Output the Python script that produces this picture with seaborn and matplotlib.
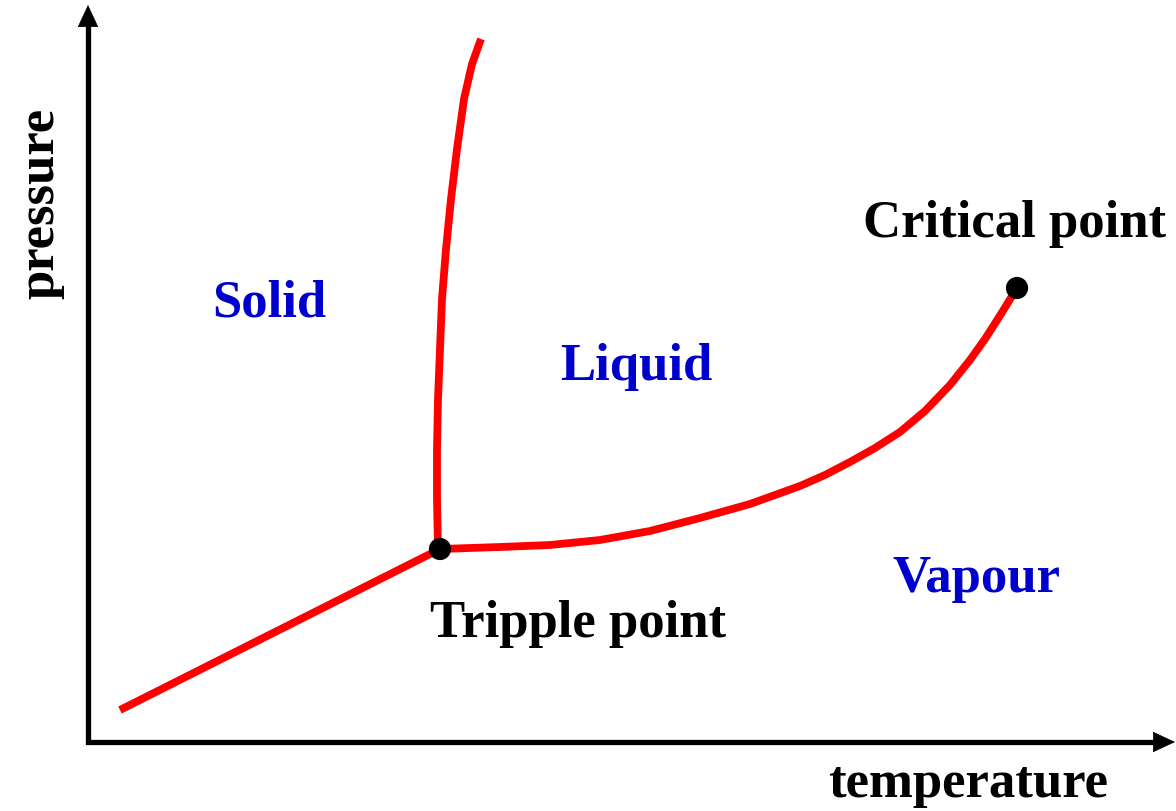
import numpy as np
import pandas as pd
import matplotlib.pyplot as plt
import seaborn as sns

# Phase diagram (schematic) - values in arbitrary units
sub_T = [32, 352]
sub_P = [32, 193]

melt_T = [350, 349, 349, 350, 352, 354, 358, 363, 369, 376, 384, 393]
melt_P = [193, 243, 293, 343, 393, 443, 493, 543, 593, 643, 678, 703]

vap_T = [352, 382, 412, 462, 512, 562, 612, 662, 712, 737, 762, 787, 812,
         837, 862, 882, 897, 913, 929]
vap_P = [193, 194, 195, 197, 202, 211, 224, 238, 256, 267, 280, 294, 310,
         331, 357, 382, 403, 428, 454]

triple = (352, 193)
critical = (929, 454)

phase_labels = ["Solid", "Liquid", "Vapour"]
phase_pos = [(124, 426), (472, 363), (804, 151)]

sns.set_style("white")
plt.rcParams['font.family'] = ['Liberation Serif', 'DejaVu Serif']

fig = plt.figure(figsize=(11.76, 8.12), dpi=100)
ax = fig.add_axes([0, 0, 1, 1])
ax.set_xlim(-88, 1088)
ax.set_ylim(-69, 743)
ax.axis('off')

red = '#ff0000'
lw = 5.6
for T, P in [(sub_T, sub_P), (melt_T, melt_P), (vap_T, vap_P)]:
    sns.lineplot(x=T, y=P, ax=ax, color=red, lw=lw, sort=False,
                 estimator=None, solid_capstyle='butt',
                 solid_joinstyle='round')

pts = pd.DataFrame({'T': [triple[0], critical[0]], 'P': [triple[1], critical[1]]})
sns.scatterplot(data=pts, x='T', y='P', ax=ax, s=16**2, color='black',
                edgecolor='none', zorder=5)

# axes with arrows
ax.plot([0, 0, 1070], [720, 0, 0], color='black', lw=3.8,
        solid_joinstyle='miter', solid_capstyle='butt')
arrow = dict(arrowstyle='-|>,head_length=15,head_width=7', lw=0.5,
             color='black', shrinkA=0, shrinkB=0, mutation_scale=1)
ax.annotate('', xy=(0, 737), xytext=(0, 700), arrowprops=arrow)
ax.annotate('', xy=(1087, 0), xytext=(1050, 0), arrowprops=arrow)

fs = 38
for lab, (t, p) in zip(phase_labels, phase_pos):
    ax.text(t, p, lab, color='#0000cc', fontsize=fs, fontweight='bold',
            ha='left', va='baseline')
ax.text(342, 106, "Tripple point", color='black', fontsize=fs,
        fontweight='bold', ha='left', va='baseline')
ax.text(775, 506, "Critical point", color='black', fontsize=fs,
        fontweight='bold', ha='left', va='baseline')
ax.text(740, -54, "temperature", color='black', fontsize=fs,
        fontweight='bold', ha='left', va='baseline')
ax.text(-48, 540, "pressure", color='black', fontsize=fs,
        fontweight='bold', ha='center', va='center', rotation=90)

plt.savefig('out.png', dpi=100, facecolor='white')
